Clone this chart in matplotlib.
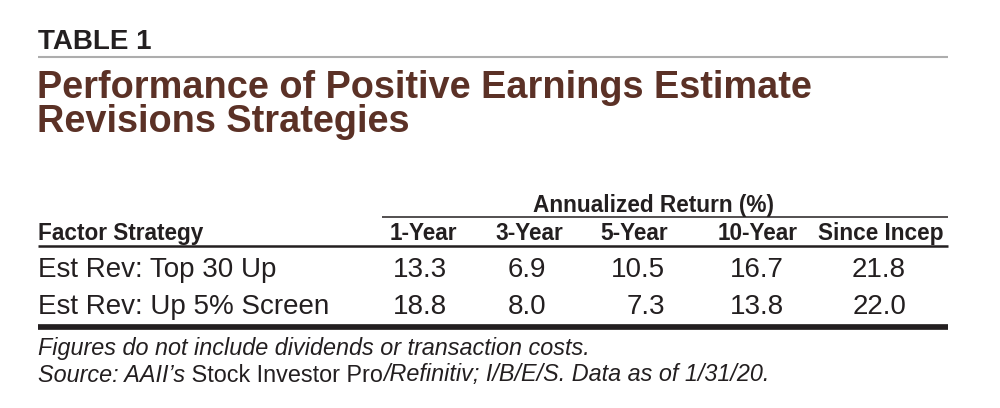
import matplotlib
matplotlib.use("Agg")
import matplotlib.pyplot as plt

# ---- data ----
table_label = "TABLE 1"
title_lines = ["Performance of Positive Earnings Estimate", "Revisions Strategies"]
group_header = "Annualized Return (%)"
row_header = "Factor Strategy"
periods = ["1-Year", "3-Year", "5-Year", "10-Year", "Since Incep"]
strategies = ["Est Rev: Top 30 Up", "Est Rev: Up 5% Screen"]
top30_returns = [13.3, 6.9, 10.5, 16.7, 21.8]
up5_returns = [18.8, 8.0, 7.3, 13.8, 22.0]
footnote = "Figures do not include dividends or transaction costs."
source_parts = [("Source: AAII\u2019s", "italic"),
                (" Stock Investor Pro", "normal"),
                ("/Refinitiv; I/B/E/S. Data as of 1/31/20.", "italic")]

# ---- layout ----
plt.rcParams["font.family"] = ["Liberation Sans", "DejaVu Sans"]
INK = "#231f20"
BROWN = "#5b3126"
LEFT, RIGHT = 38, 948
header_right = [457, 563, 668, 798, 943]
value_right = [447, 546, 665, 784, 906]
row_baselines = [277, 314]

fig = plt.figure(figsize=(10, 4.08), dpi=100)
ax = fig.add_axes([0, 0, 1, 1])
ax.set_xlim(0, 1000)
ax.set_ylim(408, 0)
ax.axis("off")

# table label and rule
ax.text(LEFT, 49, table_label, fontsize=20, fontweight="bold", color=INK, va="baseline")
ax.plot([LEFT, RIGHT], [57, 57], color="#adadad", lw=1.5, solid_capstyle="butt")

# title
for line, y in zip(title_lines, [98.5, 131.5]):
    ax.text(LEFT - 1, y, line, fontsize=27.3, fontweight="bold", color=BROWN, va="baseline")

# group header
ax.text((532 + 775) / 2, 212, group_header, fontsize=16.3, fontweight="bold",
        color=INK, ha="center", va="baseline")
ax.plot([382, RIGHT], [217, 217], color=INK, lw=1.1, solid_capstyle="butt")

# column header
ax.text(LEFT, 240, row_header, fontsize=16.3, fontweight="bold", color=INK, va="baseline")
for p, xr in zip(periods, header_right):
    ax.text(xr, 240, p, fontsize=16.3, fontweight="bold", color=INK, ha="right", va="baseline")
ax.plot([LEFT, RIGHT], [246.3, 246.3], color=INK, lw=1.8, solid_capstyle="butt")

# rows
for name, vals, yb in zip(strategies, [top30_returns, up5_returns], row_baselines):
    ax.text(LEFT, yb, name, fontsize=20, color=INK, va="baseline")
    for v, xr in zip(vals, value_right):
        ax.text(xr, yb, f"{v:.1f}", fontsize=20, color=INK, ha="right", va="baseline")
ax.plot([LEFT, RIGHT], [327, 327], color=INK, lw=4.1, solid_capstyle="butt")

# footnotes
ax.text(LEFT, 354.5, footnote, fontsize=16.8, style="italic", color=INK, va="baseline")
renderer = fig.canvas.get_renderer()
x = LEFT
for s, st in source_parts:
    t = ax.text(x, 381.5, s, fontsize=16.8, style=st, color=INK, va="baseline")
    bb = t.get_window_extent(renderer=renderer)
    x = ax.transData.inverted().transform((bb.x1, bb.y0))[0]

fig.savefig("out.png", dpi=100, facecolor="white")
